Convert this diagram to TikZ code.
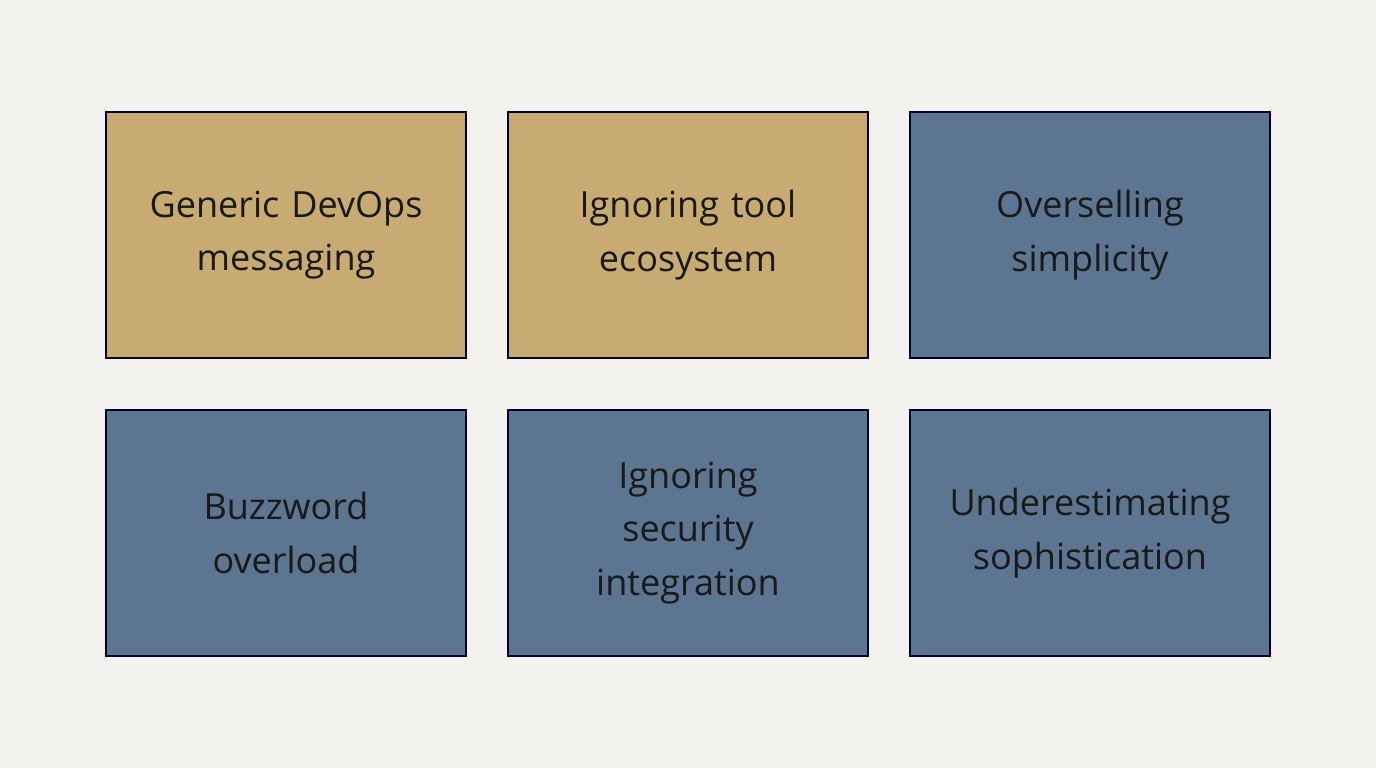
\documentclass[tikz,border=0pt]{standalone}
\usepackage{fontspec}
\setmainfont{Open Sans}
\begin{document}
\begin{tikzpicture}[x=0.02cm,y=-0.02cm,
 box/.style={draw=black!85!blue,line width=1.6pt,minimum width=360*0.02cm,minimum height=246*0.02cm,align=center,text width=340*0.02cm,font=\fontsize{20.5}{30.5}\selectfont,text=black!90},
 gold/.style={box,fill=gold},blue/.style={box,fill=slate}]
\definecolor{gold}{HTML}{C8AB72}
\definecolor{slate}{HTML}{5C7590}
\definecolor{bg}{HTML}{F3F2EE}
\fill[bg] (0,0) rectangle (1376,768);
\useasboundingbox (0,0) rectangle (1376,768);
\node[gold] (a) at (286,235) {Generic DevOps\\messaging};
\node[gold] (b) at (688,235) {Ignoring tool\\ecosystem};
\node[blue] (c) at (1090,235) {Overselling\\simplicity};
\node[blue] (d) at (286,533) {Buzzword\\overload};
\node[blue] (e) at (688,533) {Ignoring\\security\\integration};
\node[blue] (f) at (1090,533) {Underestimating\\sophistication};
\end{tikzpicture}
\end{document}
